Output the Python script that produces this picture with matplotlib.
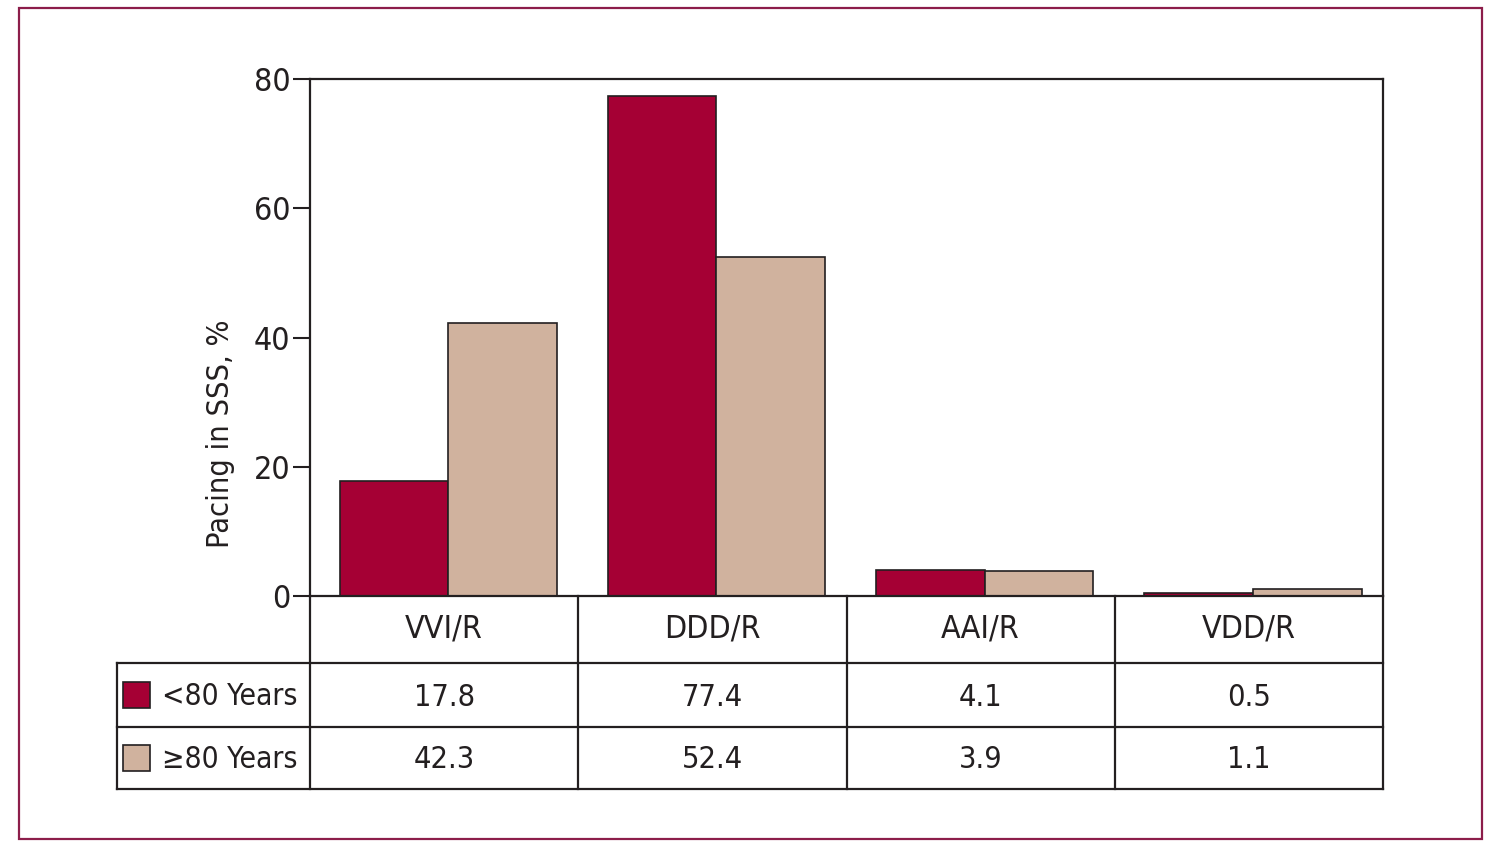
import matplotlib.pyplot as plt
from matplotlib.patches import Rectangle
import numpy as np

# data
categories = ['VVI/R', 'DDD/R', 'AAI/R', 'VDD/R']
series_names = ['<80 Years', '\u226580 Years']
under80 = [17.8, 77.4, 4.1, 0.5]
over80 = [42.3, 52.4, 3.9, 1.1]
yticks = [0, 20, 40, 60, 80]

red = '#A50034'
tan = '#D0B29E'
ink = '#231F20'
frame = '#8C1D4A'
plt.rcParams['font.family'] = ['DejaVu Sans']
plt.rcParams['font.stretch'] = 'condensed'

W, H = 1500, 866
fig = plt.figure(figsize=(W / 100, H / 100), dpi=100)

# outer frame
fig.patches.append(Rectangle((19 / W, 1 - 839 / H), (1482 - 19) / W, (839 - 8) / H,
                             transform=fig.transFigure, fill=False,
                             edgecolor=frame, lw=1.6))

# bar axes
ax = fig.add_axes([310 / W, 1 - 596 / H, (1383 - 310) / W, (596 - 79) / H])
x = np.arange(len(categories))
bw = 0.405
ax.bar(x - bw / 2 + 0.015, under80, bw, color=red, edgecolor=ink, lw=1.2)
ax.bar(x + bw / 2 + 0.015, over80, bw, color=tan, edgecolor=ink, lw=1.2)
ax.set_xlim(-0.5, len(categories) - 0.5)
ax.set_ylim(0, 80)
ax.set_yticks(yticks)
ax.set_xticks([])
ax.tick_params(axis='y', direction='out', length=12, width=1.5, pad=2,
               labelsize=23, colors=ink)
for s in ax.spines.values():
    s.set_linewidth(1.6)
    s.set_color(ink)
ax.set_ylabel('Pacing in SSS, %', fontsize=22, color=ink)
ax.yaxis.set_label_coords(-0.07, 0.313)

# data table below the bars (y in pixel rows of the figure)
unit = 1073 / len(categories)
left_w = (310 - 117) / unit
tx = fig.add_axes([117 / W, 1 - 789 / H, (1383 - 117) / W, (789 - 596) / H])
xl = -0.5 - left_w
xr = len(categories) - 0.5
tx.set_xlim(xl, xr)
tx.set_ylim(789, 596)
tx.axis('off')
rows = [596, 663, 727, 789]
lk = dict(color=ink, lw=1.6, clip_on=False, solid_capstyle='projecting')
for b in np.arange(len(categories) + 1) - 0.5:
    tx.plot([b, b], [rows[0], rows[-1]], **lk)
tx.plot([xl, xl], [rows[1], rows[-1]], **lk)
for yy in rows[1:]:
    tx.plot([xl, xr], [yy, yy], **lk)

mids = [(a + b) / 2 for a, b in zip(rows[:-1], rows[1:])]
for i, c in enumerate(categories):
    tx.text(i, mids[0], c, ha='center', va='center', fontsize=23, color=ink)
    tx.text(i, mids[1] + 3, f'{under80[i]}', ha='center', va='center', fontsize=22, color=ink)
    tx.text(i, mids[2] + 2, f'{over80[i]}', ha='center', va='center', fontsize=22, color=ink)

for r, (name, col) in enumerate(zip(series_names, [red, tan])):
    tx.add_patch(Rectangle((xl + 6 / unit, mids[r + 1] - 13), 27 / unit, 26,
                           facecolor=col, edgecolor=ink, lw=1.2, clip_on=False))
    tx.text(xl + 45 / unit, mids[r + 1] + 2, name, ha='left', va='center',
            fontsize=21.5, color=ink)

fig.savefig('out.png', dpi=100)
